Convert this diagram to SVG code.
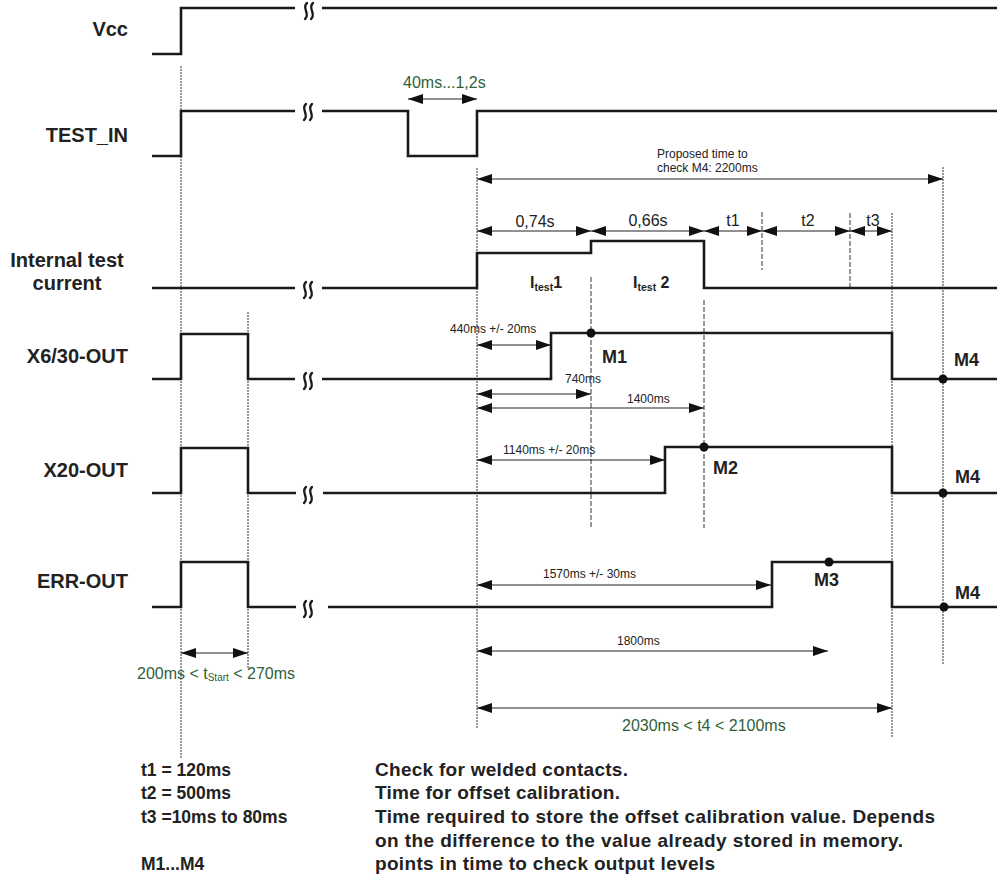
<svg xmlns="http://www.w3.org/2000/svg" xmlns:xlink="http://www.w3.org/1999/xlink" width="997" height="876" viewBox="0 0 997 876">
<style>
.lbl{font-family:"Liberation Sans",Arial,sans-serif;font-weight:bold;font-size:20px;fill:#222;text-anchor:end}
.wave{fill:none;stroke:#1a1a1a;stroke-width:2.6;stroke-linejoin:miter}
.brk{fill:none;stroke:#1a1a1a;stroke-width:2.3;stroke-linecap:round}
.dot{fill:none;stroke:#333;stroke-width:1;stroke-dasharray:2 1}
.dash{fill:none;stroke:#333;stroke-width:1;stroke-dasharray:5 2}
.dim{fill:none;stroke:#222;stroke-width:1;marker-start:url(#ah);marker-end:url(#ah)}
.sm{font-family:"Liberation Sans",Arial,sans-serif;font-size:12px;fill:#222}
.md{font-family:"Liberation Sans",Arial,sans-serif;font-size:16px;fill:#222;text-anchor:middle}
.gr{font-family:"Liberation Sans",Arial,sans-serif;font-size:16px;fill:#2f5f3a}
.mk{font-family:"Liberation Sans",Arial,sans-serif;font-weight:bold;font-size:18px;fill:#222}
.it{font-family:"Liberation Sans",Arial,sans-serif;font-weight:bold;font-size:16px;fill:#222}
.lg{font-family:"Liberation Sans",Arial,sans-serif;font-weight:bold;font-size:19px;fill:#222}
.lgl{font-family:"Liberation Sans",Arial,sans-serif;font-weight:bold;font-size:17.5px;fill:#222}
.pt{fill:#111}
</style>
<defs>
<marker id="ah" viewBox="0 0 15 10" refX="15" refY="5" markerWidth="15" markerHeight="10" markerUnits="userSpaceOnUse" orient="auto-start-reverse">
<path d="M0,0 L15,5 L0,10 z" fill="#111"/>
</marker>
<g id="brk">
<path class="brk" d="M-1,-8 C-7,-3 3,3 -3,8"/>
<path class="brk" d="M5,-8 C-1,-3 9,3 3,8"/>
</g>
</defs>

<g id="connectors">
<line class="dot" x1="181" y1="66" x2="181" y2="758"/>
<line class="dot" x1="248" y1="312" x2="248" y2="668"/>
<line class="dot" x1="477" y1="168" x2="477" y2="728"/>
<line class="dash" x1="591" y1="277" x2="591" y2="528"/>
<line class="dash" x1="704" y1="300" x2="704" y2="528"/>
<line class="dash" x1="762" y1="212" x2="762" y2="270"/>
<line class="dash" x1="850" y1="213" x2="850" y2="288"/>
<line class="dot" x1="892" y1="213" x2="892" y2="738"/>
<line class="dot" x1="943" y1="167" x2="943" y2="665"/>

<line class="dim" x1="408" y1="99" x2="477" y2="99"/>
<line class="dim" x1="477" y1="179" x2="943" y2="179"/>
<line class="dim" x1="477" y1="231" x2="591" y2="231"/>
<line class="dim" x1="591" y1="231" x2="704" y2="231"/>
<line class="dim" x1="704" y1="231" x2="762" y2="231"/>
<line class="dim" x1="762" y1="231" x2="850" y2="231"/>
<line class="dim" x1="850" y1="231" x2="892" y2="231"/>
<line class="dim" x1="477" y1="345" x2="551" y2="345"/>
<line class="dim" x1="477" y1="394" x2="591" y2="394"/>
<line class="dim" x1="477" y1="408" x2="704" y2="408"/>
<line class="dim" x1="477" y1="460" x2="665" y2="460"/>
<line class="dim" x1="477" y1="585" x2="771" y2="585"/>
<line class="dim" x1="477" y1="651" x2="828" y2="651"/>
<line class="dim" x1="477" y1="708" x2="892" y2="708"/>
<line class="dim" x1="181" y1="653" x2="248" y2="653"/>

<text class="gr" x="403" y="88">40ms...1,2s</text>
<text class="sm" x="657" y="158" font-size="11.5">Proposed time to</text>
<text class="sm" x="657" y="172" font-size="11.5">check M4: 2200ms</text>
<text class="md" x="535" y="227">0,74s</text>
<text class="md" x="648" y="226">0,66s</text>
<text class="md" x="733" y="226">t1</text>
<text class="md" x="808" y="226">t2</text>
<text class="md" x="873" y="226">t3</text>
<text class="sm" x="450" y="333">440ms +/- 20ms</text>
<text class="sm" x="565" y="383">740ms</text>
<text class="sm" x="627" y="403">1400ms</text>
<text class="sm" x="503" y="454">1140ms +/- 20ms</text>
<text class="sm" x="543" y="578">1570ms +/- 30ms</text>
<text class="sm" x="617" y="645">1800ms</text>
<text class="gr" x="622" y="731">2030ms &lt; t4 &lt; 2100ms</text>
<text class="gr" x="137" y="679" font-size="15">200ms &lt; t<tspan font-size="10" dy="2">Start</tspan><tspan dy="-2"> &lt; 270ms</tspan></text>
</g>

<g id="vcc">
<text class="lbl" x="128" y="36">Vcc</text>
<path class="wave" d="M152,54 H181 V8 H295 M322,8 H997"/>
<use xlink:href="#brk" x="308" y="11"/>
</g>

<g id="test_in">
<text class="lbl" x="128" y="142">TEST_IN</text>
<path class="wave" d="M152,156 H181 V111 H295 M322,111 H408 V156 H477 V111 H997"/>
<use xlink:href="#brk" x="307" y="112"/>
</g>

<g id="internal_test_current">
<text class="lbl" x="67" y="267" style="text-anchor:middle">Internal test</text>
<text class="lbl" x="67" y="290" style="text-anchor:middle">current</text>
<path class="wave" d="M152,288 H295 M322,288 H477 V253 H591 V241 H704 V288 H997"/>
<use xlink:href="#brk" x="307" y="290"/>
<text class="it" x="530" y="288">I<tspan font-size="10.5" dy="3">test</tspan><tspan dy="-3">1</tspan></text>
<text class="it" x="633" y="288">I<tspan font-size="10.5" dy="3">test</tspan><tspan dy="-3"> 2</tspan></text>
</g>

<g id="x6_30_out">
<text class="lbl" x="128" y="363">X6/30-OUT</text>
<path class="wave" d="M152,379 H181 V334 H248 V379 H295 M322,379 H551 V333 H892 V379 H997"/>
<use xlink:href="#brk" x="307" y="381"/>
<circle class="pt" cx="591" cy="333" r="4.5"/>
<circle class="pt" cx="943" cy="379" r="4.5"/>
<text class="mk" x="602" y="363">M1</text>
<text class="mk" x="954" y="366">M4</text>
</g>

<g id="x20_out">
<text class="lbl" x="128" y="477">X20-OUT</text>
<path class="wave" d="M152,493 H181 V448 H248 V493 H296 M323,493 H665 V447 H892 V493 H997"/>
<use xlink:href="#brk" x="307" y="495"/>
<circle class="pt" cx="704" cy="447" r="4.5"/>
<circle class="pt" cx="943" cy="493" r="4.5"/>
<text class="mk" x="713" y="474">M2</text>
<text class="mk" x="955" y="483">M4</text>
</g>

<g id="err_out">
<text class="lbl" x="128" y="588">ERR-OUT</text>
<path class="wave" d="M152,607 H181 V562 H248 V607 H296 M328,607 H772 V562 H892 V607 H997"/>
<use xlink:href="#brk" x="307" y="609"/>
<circle class="pt" cx="829" cy="562" r="4.5"/>
<circle class="pt" cx="944" cy="607" r="4.5"/>
<text class="mk" x="814" y="586">M3</text>
<text class="mk" x="955" y="599">M4</text>
</g>

<g id="legend">
<text class="lgl" x="141" y="776">t1 = 120ms</text>
<text class="lgl" x="141" y="799">t2 = 500ms</text>
<text class="lgl" x="141" y="823">t3 =10ms to 80ms</text>
<text class="lgl" x="141" y="870">M1...M4</text>
<text class="lg" x="375" y="776" textLength="253">Check for welded contacts.</text>
<text class="lg" x="375" y="799" textLength="245">Time for offset calibration.</text>
<text class="lg" x="375" y="823" textLength="560">Time required to store the offset calibration value. Depends</text>
<text class="lg" x="375" y="847" textLength="528">on the difference to the value already stored in memory.</text>
<text class="lg" x="375" y="870" textLength="340">points in time to check output levels</text>
</g>
</svg>
